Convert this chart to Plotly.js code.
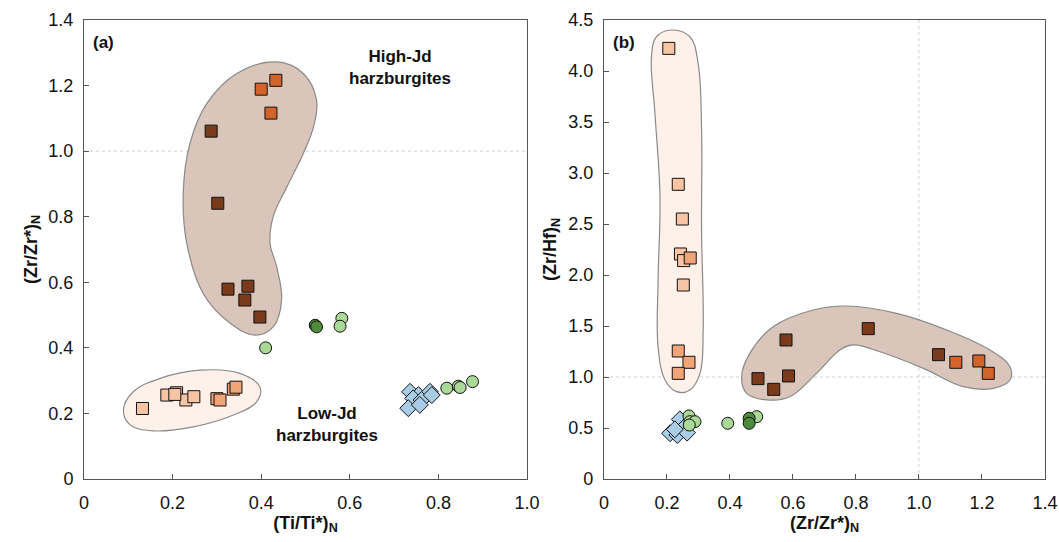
<!DOCTYPE html>
<html>
<head>
<meta charset="utf-8">
<script src="https://cdn.plot.ly/plotly-3.0.1.min.js"></script>
<style>html,body{margin:0;padding:0;background:#fff}#chart{width:1059px;height:542px}</style>
</head>
<body>
<div id="chart"></div>
<script>
// ---------- Panel (a): (Ti/Ti*)N vs (Zr/Zr*)N ----------
var aHighDarkX = [0.287, 0.302, 0.325, 0.370, 0.363, 0.397];
var aHighDarkY = [1.061, 0.841, 0.579, 0.588, 0.546, 0.494];
var aHighOrX = [0.433, 0.400, 0.422];
var aHighOrY = [1.216, 1.189, 1.116];
var aLowLightX = [0.132, 0.187, 0.209, 0.230, 0.248, 0.205];
var aLowLightY = [0.215, 0.256, 0.263, 0.241, 0.251, 0.258];
var aLowMedX = [0.300, 0.307, 0.337, 0.343];
var aLowMedY = [0.245, 0.241, 0.274, 0.280];
var aGreenLightX = [0.410, 0.582, 0.578, 0.819, 0.845, 0.849, 0.877];
var aGreenLightY = [0.400, 0.490, 0.466, 0.277, 0.283, 0.279, 0.297];
var aGreenDarkX = [0.522, 0.525];
var aGreenDarkY = [0.469, 0.464];
var aBlueX = [0.736, 0.755, 0.781, 0.743, 0.762, 0.732, 0.758, 0.785];
var aBlueY = [0.266, 0.256, 0.266, 0.246, 0.241, 0.216, 0.226, 0.256];

// envelopes panel (a)
var aEnvHighX = [0.435, 0.495, 0.525, 0.518, 0.495, 0.458, 0.427, 0.420, 0.435, 0.446, 0.427, 0.386, 0.330, 0.269, 0.232, 0.224, 0.239, 0.277, 0.345, 0.435];
var aEnvHighY = [1.272, 1.237, 1.155, 1.074, 0.993, 0.891, 0.800, 0.719, 0.647, 0.546, 0.464, 0.439, 0.475, 0.566, 0.719, 0.871, 1.023, 1.145, 1.237, 1.272];
var aEnvLowX = [0.089, 0.111, 0.172, 0.262, 0.352, 0.397, 0.390, 0.337, 0.247, 0.156, 0.104, 0.089];
var aEnvLowY = [0.210, 0.266, 0.307, 0.332, 0.322, 0.281, 0.236, 0.195, 0.159, 0.147, 0.165, 0.210];

// ---------- Panel (b): (Zr/Zr*)N vs (Zr/Hf)N ----------
var bHighDarkX = [0.578, 0.839, 0.489, 0.539, 0.586, 1.062];
var bHighDarkY = [1.363, 1.474, 0.984, 0.879, 1.010, 1.219];
var bHighOrX = [1.117, 1.190, 1.220];
var bHighOrY = [1.144, 1.157, 1.036];
var bLowLightX = [0.206, 0.236, 0.249, 0.243, 0.253, 0.252];
var bLowLightY = [4.222, 2.889, 2.549, 2.206, 2.141, 1.902];
var bLowMedX = [0.274, 0.236, 0.270, 0.236];
var bLowMedY = [2.167, 1.255, 1.144, 1.036];
var bGreenLightX = [0.270, 0.273, 0.289, 0.271, 0.393, 0.485];
var bGreenLightY = [0.618, 0.562, 0.562, 0.529, 0.546, 0.611];
var bGreenDarkX = [0.461, 0.461];
var bGreenDarkY = [0.595, 0.546];
var bBlueX = [0.210, 0.233, 0.241, 0.255, 0.264, 0.225];
var bBlueY = [0.448, 0.431, 0.585, 0.507, 0.454, 0.487];

// envelopes panel (b)
var bEnvLowX = [0.215, 0.273, 0.299, 0.310, 0.310, 0.315, 0.305, 0.273, 0.231, 0.194, 0.172, 0.172, 0.178, 0.162, 0.151, 0.167, 0.215];
var bEnvLowY = [4.402, 4.336, 4.075, 3.422, 2.441, 1.461, 1.036, 0.873, 0.856, 0.971, 1.297, 1.951, 2.768, 3.585, 4.140, 4.336, 4.402];
var bEnvHighX = [0.437, 0.463, 0.537, 0.664, 0.770, 0.929, 1.088, 1.225, 1.289, 1.289, 1.236, 1.141, 1.014, 0.876, 0.791, 0.749, 0.675, 0.590, 0.517, 0.453, 0.437];
var bEnvHighY = [1.003, 1.232, 1.493, 1.657, 1.696, 1.624, 1.461, 1.265, 1.101, 0.971, 0.889, 0.905, 1.085, 1.248, 1.314, 1.265, 1.036, 0.807, 0.775, 0.840, 1.003];

// ticks
var aXTicks = [0, 0.2, 0.4, 0.6, 0.8, 1.0];
var aXText = ['0', '0.2', '0.4', '0.6', '0.8', '1.0'];
var aYTicks = [0, 0.2, 0.4, 0.6, 0.8, 1.0, 1.2, 1.4];
var aYText = ['0', '0.2', '0.4', '0.6', '0.8', '1.0', '1.2', '1.4'];
var bXTicks = [0, 0.2, 0.4, 0.6, 0.8, 1.0, 1.2, 1.4];
var bXText = ['0', '0.2', '0.4', '0.6', '0.8', '1.0', '1.2', '1.4'];
var bYTicks = [0, 0.5, 1.0, 1.5, 2.0, 2.5, 3.0, 3.5, 4.0, 4.5];
var bYText = ['0', '0.5', '1.0', '1.5', '2.0', '2.5', '3.0', '3.5', '4.0', '4.5'];

var C = {
  highDark: '#7A3B1C', highOr: '#D2642B', lowLight: '#F7C5A3', lowMed: '#F0A477',
  greenLight: '#A9D897', greenDark: '#4D8B3A', blue: '#A9CDE6',
  envHigh: '#D9C5B9', envLow: '#FDF1EA', envLine: '#8A8A8A'
};

function env(x, y, fill, xa, ya) {
  return {x: x, y: y, xaxis: xa, yaxis: ya, type: 'scatter', mode: 'lines',
    line: {shape: 'spline', smoothing: 1.1, color: C.envLine, width: 1.2},
    fill: 'toself', fillcolor: fill, hoverinfo: 'skip', showlegend: false};
}
function pts(x, y, sym, col, size, xa, ya) {
  return {x: x, y: y, xaxis: xa, yaxis: ya, type: 'scatter', mode: 'markers',
    marker: {symbol: sym, color: col, size: size, line: {color: '#111', width: 1}},
    showlegend: false};
}

var traces = [
  env(aEnvHighX, aEnvHighY, C.envHigh, 'x', 'y'),
  env(aEnvLowX, aEnvLowY, C.envLow, 'x', 'y'),
  pts(aHighDarkX, aHighDarkY, 'square', C.highDark, 12, 'x', 'y'),
  pts(aHighOrX, aHighOrY, 'square', C.highOr, 12, 'x', 'y'),
  pts(aLowLightX, aLowLightY, 'square', C.lowLight, 12, 'x', 'y'),
  pts(aLowMedX, aLowMedY, 'square', C.lowMed, 12, 'x', 'y'),
  pts(aBlueX, aBlueY, 'diamond', C.blue, 13, 'x', 'y'),
  pts(aGreenLightX, aGreenLightY, 'circle', C.greenLight, 12, 'x', 'y'),
  pts(aGreenDarkX, aGreenDarkY, 'circle', C.greenDark, 12, 'x', 'y'),

  env(bEnvLowX, bEnvLowY, C.envLow, 'x2', 'y2'),
  env(bEnvHighX, bEnvHighY, C.envHigh, 'x2', 'y2'),
  pts(bHighDarkX, bHighDarkY, 'square', C.highDark, 12, 'x2', 'y2'),
  pts(bHighOrX, bHighOrY, 'square', C.highOr, 12, 'x2', 'y2'),
  pts(bLowLightX, bLowLightY, 'square', C.lowLight, 12, 'x2', 'y2'),
  pts(bLowMedX, bLowMedY, 'square', C.lowMed, 12, 'x2', 'y2'),
  pts(bBlueX, bBlueY, 'diamond', C.blue, 13, 'x2', 'y2'),
  pts(bGreenLightX, bGreenLightY, 'circle', C.greenLight, 12, 'x2', 'y2'),
  pts(bGreenDarkX, bGreenDarkY, 'circle', C.greenDark, 12, 'x2', 'y2')
];

var FONT = 'Liberation Sans, Arial, sans-serif';
function axis(domain, range, tv, tt, title, anchor, isX) {
  return {domain: domain, range: range, tickvals: tv, ticktext: tt, anchor: anchor,
    showgrid: false, zeroline: false, showline: true, mirror: true,
    linecolor: '#555', linewidth: 1, ticks: 'inside', ticklen: 5, tickcolor: '#555',
    ticklabelstandoff: isX ? 7 : 6,
    tickfont: {family: FONT, size: 18, color: '#111'},
    title: {text: title, font: {family: FONT, size: 18, color: '#111'}, standoff: isX ? 3 : 6}};
}

var layout = {
  width: 1059, height: 542,
  margin: {l: 84, r: 14, t: 20, b: 63},
  paper_bgcolor: '#fff', plot_bgcolor: '#fff',
  font: {family: FONT, color: '#111'},
  xaxis: axis([0, 0.461], [0, 1.0], aXTicks, aXText, '<b>(Ti/Ti*)<sub>N</sub></b>', 'y', true),
  yaxis: axis([0, 1], [0, 1.4], aYTicks, aYText, '<b>(Zr/Zr*)<sub>N</sub></b>', 'x', false),
  xaxis2: axis([0.541, 1], [0, 1.4], bXTicks, bXText, '<b>(Zr/Zr*)<sub>N</sub></b>', 'y2', true),
  yaxis2: axis([0, 1], [0, 4.5], bYTicks, bYText, '<b>(Zr/Hf)<sub>N</sub></b>', 'x2', false),
  shapes: [
    {type: 'line', xref: 'x domain', yref: 'y', x0: 0, x1: 1, y0: 1, y1: 1, layer: 'below',
      line: {color: '#CFCFCF', width: 1, dash: '3px,3px'}},
    {type: 'line', xref: 'x2 domain', yref: 'y2', x0: 0, x1: 1, y0: 1, y1: 1, layer: 'below',
      line: {color: '#CFCFCF', width: 1, dash: '3px,3px'}},
    {type: 'line', xref: 'x2', yref: 'y2 domain', x0: 1, x1: 1, y0: 0, y1: 1, layer: 'below',
      line: {color: '#CFCFCF', width: 1, dash: '3px,3px'}}
  ],
  annotations: [
    {xref: 'x domain', yref: 'y domain', x: 0.015, y: 0.975, xanchor: 'left', yanchor: 'top',
      text: '<b>(a)</b>', showarrow: false, font: {family: FONT, size: 17, color: '#111'}},
    {xref: 'x2 domain', yref: 'y2 domain', x: 0.015, y: 0.975, xanchor: 'left', yanchor: 'top',
      text: '<b>(b)</b>', showarrow: false, font: {family: FONT, size: 17, color: '#111'}},
    {xref: 'x', yref: 'y', x: 0.713, y: 1.256, text: '<b>High-Jd<br>harzburgites</b>',
      showarrow: false, align: 'center', font: {family: FONT, size: 17, color: '#111'}},
    {xref: 'x', yref: 'y', x: 0.549, y: 0.165, text: '<b>Low-Jd<br>harzburgites</b>',
      showarrow: false, align: 'center', font: {family: FONT, size: 17, color: '#111'}}
  ]
};

Plotly.newPlot('chart', traces, layout, {staticPlot: true, displayModeBar: false});
</script>
</body>
</html>
